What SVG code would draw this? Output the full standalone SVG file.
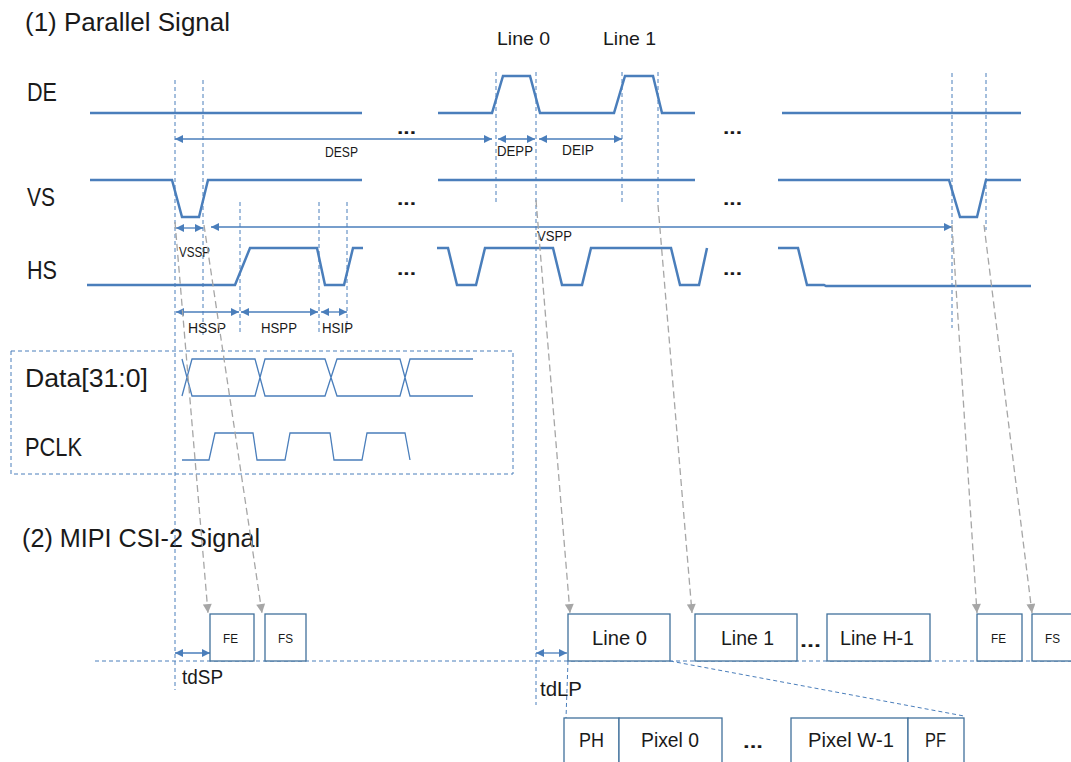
<svg xmlns="http://www.w3.org/2000/svg" width="1071" height="762" viewBox="0 0 1071 762">
<style>
text{font-family:"Liberation Sans",Arial,sans-serif;fill:#1a1a1a}
.big{font-size:25px}
.mid{font-size:19px}
.sm{font-size:14px}
.xs{font-size:13px}
.dots{font-size:18px;font-weight:bold}
.w{fill:none;stroke:#4a7ebb;stroke-width:2.5}
.thin{fill:none;stroke:#4a7ebb;stroke-width:1.3}
.vd{fill:none;stroke:#4a7ebb;stroke-width:1;stroke-dasharray:4 3}
.ar{fill:none;stroke:#4a7ebb;stroke-width:1.3;marker-start:url(#ba);marker-end:url(#ba)}
.g{fill:none;stroke:#a6a6a6;stroke-width:1.3;stroke-dasharray:7 4;marker-end:url(#ga)}
.box{fill:#fff;stroke:#41719c;stroke-width:1.3}
</style>
<defs>
<marker id="ba" viewBox="0 0 10 10" refX="10" refY="5" markerWidth="10" markerHeight="8" markerUnits="userSpaceOnUse" orient="auto-start-reverse"><path d="M0,0 L10,5 L0,10 z" fill="#4a7ebb"/></marker>
<marker id="ga" viewBox="0 0 10 10" refX="10" refY="5" markerWidth="11" markerHeight="9" markerUnits="userSpaceOnUse" orient="auto"><path d="M0,0 L10,5 L0,10 z" fill="#a6a6a6"/></marker>
</defs>
<rect width="1071" height="762" fill="#fff"/>

<g id="titles">
<text class="big" x="25" y="31" textLength="205" lengthAdjust="spacingAndGlyphs">(1) Parallel Signal</text>
<text class="big" x="22" y="547" textLength="238" lengthAdjust="spacingAndGlyphs">(2) MIPI CSI-2 Signal</text>
</g>

<g id="guides">
<path class="vd" d="M175,80 V690 M203,80 V335 M240,202 V335 M319,202 V335 M347,202 V335 M496,72 V205 M536,72 V705 M622,72 V205 M658,72 V205 M952,73 V328 M986,73 V230"/>
</g>

<g id="DE">
<text class="big" x="27" y="101" textLength="30" lengthAdjust="spacingAndGlyphs">DE</text>
<path class="w" d="M90,113 H362 M438,113 H492 L503,76 H530 L540,113 H614 L625,76 H653 L662,113 H695 M782,113 H1021"/>
<text class="mid" x="497" y="45" textLength="53" lengthAdjust="spacingAndGlyphs">Line 0</text>
<text class="mid" x="603" y="45" textLength="53" lengthAdjust="spacingAndGlyphs">Line 1</text>
<text class="dots" x="397" y="134" textLength="19" lengthAdjust="spacingAndGlyphs">...</text>
<text class="dots" x="723" y="134" textLength="19" lengthAdjust="spacingAndGlyphs">...</text>
</g>

<g id="VS">
<text class="big" x="27" y="206" textLength="28" lengthAdjust="spacingAndGlyphs">VS</text>
<path class="w" d="M90,180 H172 L182,217 H199 L208,180 H362 M438,180 H695 M778,180 H949 L960,217 H977 L986,180 H1021"/>
<text class="dots" x="397" y="205" textLength="19" lengthAdjust="spacingAndGlyphs">...</text>
<text class="dots" x="723" y="205" textLength="19" lengthAdjust="spacingAndGlyphs">...</text>
</g>

<g id="HS">
<text class="big" x="27" y="279" textLength="30" lengthAdjust="spacingAndGlyphs">HS</text>
<path class="w" d="M87,285 H235 L250,248 H317 L325,285 H344 L353,248 H363 M437,248 H448 L457,285 H476 L485,248 H553 L562,285 H582 L591,248 H671 L680,285 H699 L707,248 M778,248 H798 L807,285 H824 L826,286 H1031"/>
<text class="dots" x="397" y="275" textLength="19" lengthAdjust="spacingAndGlyphs">...</text>
<text class="dots" x="723" y="275" textLength="19" lengthAdjust="spacingAndGlyphs">...</text>
</g>

<g id="timing-arrows">
<path class="ar" d="M175,139 H492"/>
<text class="sm" x="325" y="157" textLength="33" lengthAdjust="spacingAndGlyphs">DESP</text>
<path class="ar" d="M498,139 H535"/>
<text class="sm" x="497" y="156" textLength="36" lengthAdjust="spacingAndGlyphs">DEPP</text>
<path class="ar" d="M539,139 H622"/>
<text class="sm" x="562" y="155" textLength="32" lengthAdjust="spacingAndGlyphs">DEIP</text>
<path class="ar" d="M176,228 H203"/>
<text class="sm" x="179" y="257" textLength="31" lengthAdjust="spacingAndGlyphs">VSSP</text>
<path class="ar" d="M211,227 H952"/>
<text class="sm" x="537" y="241" textLength="35" lengthAdjust="spacingAndGlyphs">VSPP</text>
<path class="ar" d="M176,312 H239"/>
<text class="sm" x="188" y="333" textLength="38" lengthAdjust="spacingAndGlyphs">HSSP</text>
<path class="ar" d="M241,312 H318"/>
<text class="sm" x="261" y="333" textLength="36" lengthAdjust="spacingAndGlyphs">HSPP</text>
<path class="ar" d="M321,312 H347"/>
<text class="sm" x="322" y="333" textLength="31" lengthAdjust="spacingAndGlyphs">HSIP</text>
</g>

<g id="data-bus">
<rect x="11" y="351" width="502" height="123" fill="none" stroke="#4a7ebb" stroke-width="1" stroke-dasharray="4 3"/>
<text class="big" x="25" y="387" textLength="123" lengthAdjust="spacingAndGlyphs">Data[31:0]</text>
<text class="big" x="25" y="456" textLength="57" lengthAdjust="spacingAndGlyphs">PCLK</text>
<path class="thin" d="M182,396 L192,359 H255 L265,396 H325 L337,359 H400 L410,396 H473 M182,359 L192,396 H255 L265,359 H325 L337,396 H400 L410,359 H473"/>
<path class="thin" d="M182,460 H209 L215,433 H253 L257,460 H285 L290,433 H330 L334,460 H362 L367,433 H405 L410,460"/>
</g>

<g id="csi-baseline">
<path class="vd" d="M95,661 H1071"/>
<path class="ar" d="M175,653 H210"/>
<text class="big" x="182" y="684" font-size="20" style="font-size:20px" textLength="41" lengthAdjust="spacingAndGlyphs">tdSP</text>
<path class="ar" d="M536,653 H567"/>
<text x="540" y="696" style="font-size:20px" textLength="42" lengthAdjust="spacingAndGlyphs">tdLP</text>
</g>

<g id="FE-left"><rect class="box" x="210" y="614" width="44" height="47"/><text class="xs" x="223" y="643" textLength="15" lengthAdjust="spacingAndGlyphs">FE</text></g>
<g id="FS-left"><rect class="box" x="265" y="614" width="41" height="47"/><text class="xs" x="278" y="643" textLength="15" lengthAdjust="spacingAndGlyphs">FS</text></g>
<g id="line0"><rect class="box" x="568" y="614" width="102" height="47"/><text x="592" y="645" style="font-size:20px" textLength="55" lengthAdjust="spacingAndGlyphs">Line 0</text></g>
<g id="line1"><rect class="box" x="695" y="614" width="102" height="47"/><text x="721" y="645" style="font-size:20px" textLength="53" lengthAdjust="spacingAndGlyphs">Line 1</text></g>
<text class="dots" x="800" y="647" textLength="21" lengthAdjust="spacingAndGlyphs">...</text>
<g id="lineH1"><rect class="box" x="827" y="614" width="103" height="47"/><text x="840" y="645" style="font-size:20px" textLength="74" lengthAdjust="spacingAndGlyphs">Line H-1</text></g>
<g id="FE-right"><rect class="box" x="977" y="614" width="45" height="47"/><text class="xs" x="991" y="643" textLength="15" lengthAdjust="spacingAndGlyphs">FE</text></g>
<g id="FS-right"><rect class="box" x="1032" y="614" width="42" height="47"/><text class="xs" x="1045" y="643" textLength="15" lengthAdjust="spacingAndGlyphs">FS</text></g>

<g id="zoom-lines">
<path class="vd" d="M568,661 L566,718 M670,661 L964,716"/>
</g>

<g id="packet">
<rect class="box" x="564" y="718" width="55" height="50"/>
<text x="579" y="747" style="font-size:20px" textLength="25" lengthAdjust="spacingAndGlyphs">PH</text>
<rect class="box" x="619" y="718" width="103" height="50"/>
<text x="641" y="747" style="font-size:20px" textLength="58" lengthAdjust="spacingAndGlyphs">Pixel 0</text>
<text class="dots" x="743" y="748" textLength="20" lengthAdjust="spacingAndGlyphs">...</text>
<rect class="box" x="791" y="718" width="117" height="50"/>
<text x="808" y="747" style="font-size:20px" textLength="86" lengthAdjust="spacingAndGlyphs">Pixel W-1</text>
<rect class="box" x="908" y="718" width="56" height="50"/>
<text x="925" y="747" style="font-size:20px" textLength="21" lengthAdjust="spacingAndGlyphs">PF</text>
</g>

<g id="connectors">
<path class="g" d="M175,222 L208,613"/>
<path class="g" d="M204,225 L262,613"/>
<path class="g" d="M536,200 L570,613"/>
<path class="g" d="M658,205 L692,613"/>
<path class="g" d="M952,225 L977,613"/>
<path class="g" d="M984,225 L1032,613"/>
</g>
</svg>
